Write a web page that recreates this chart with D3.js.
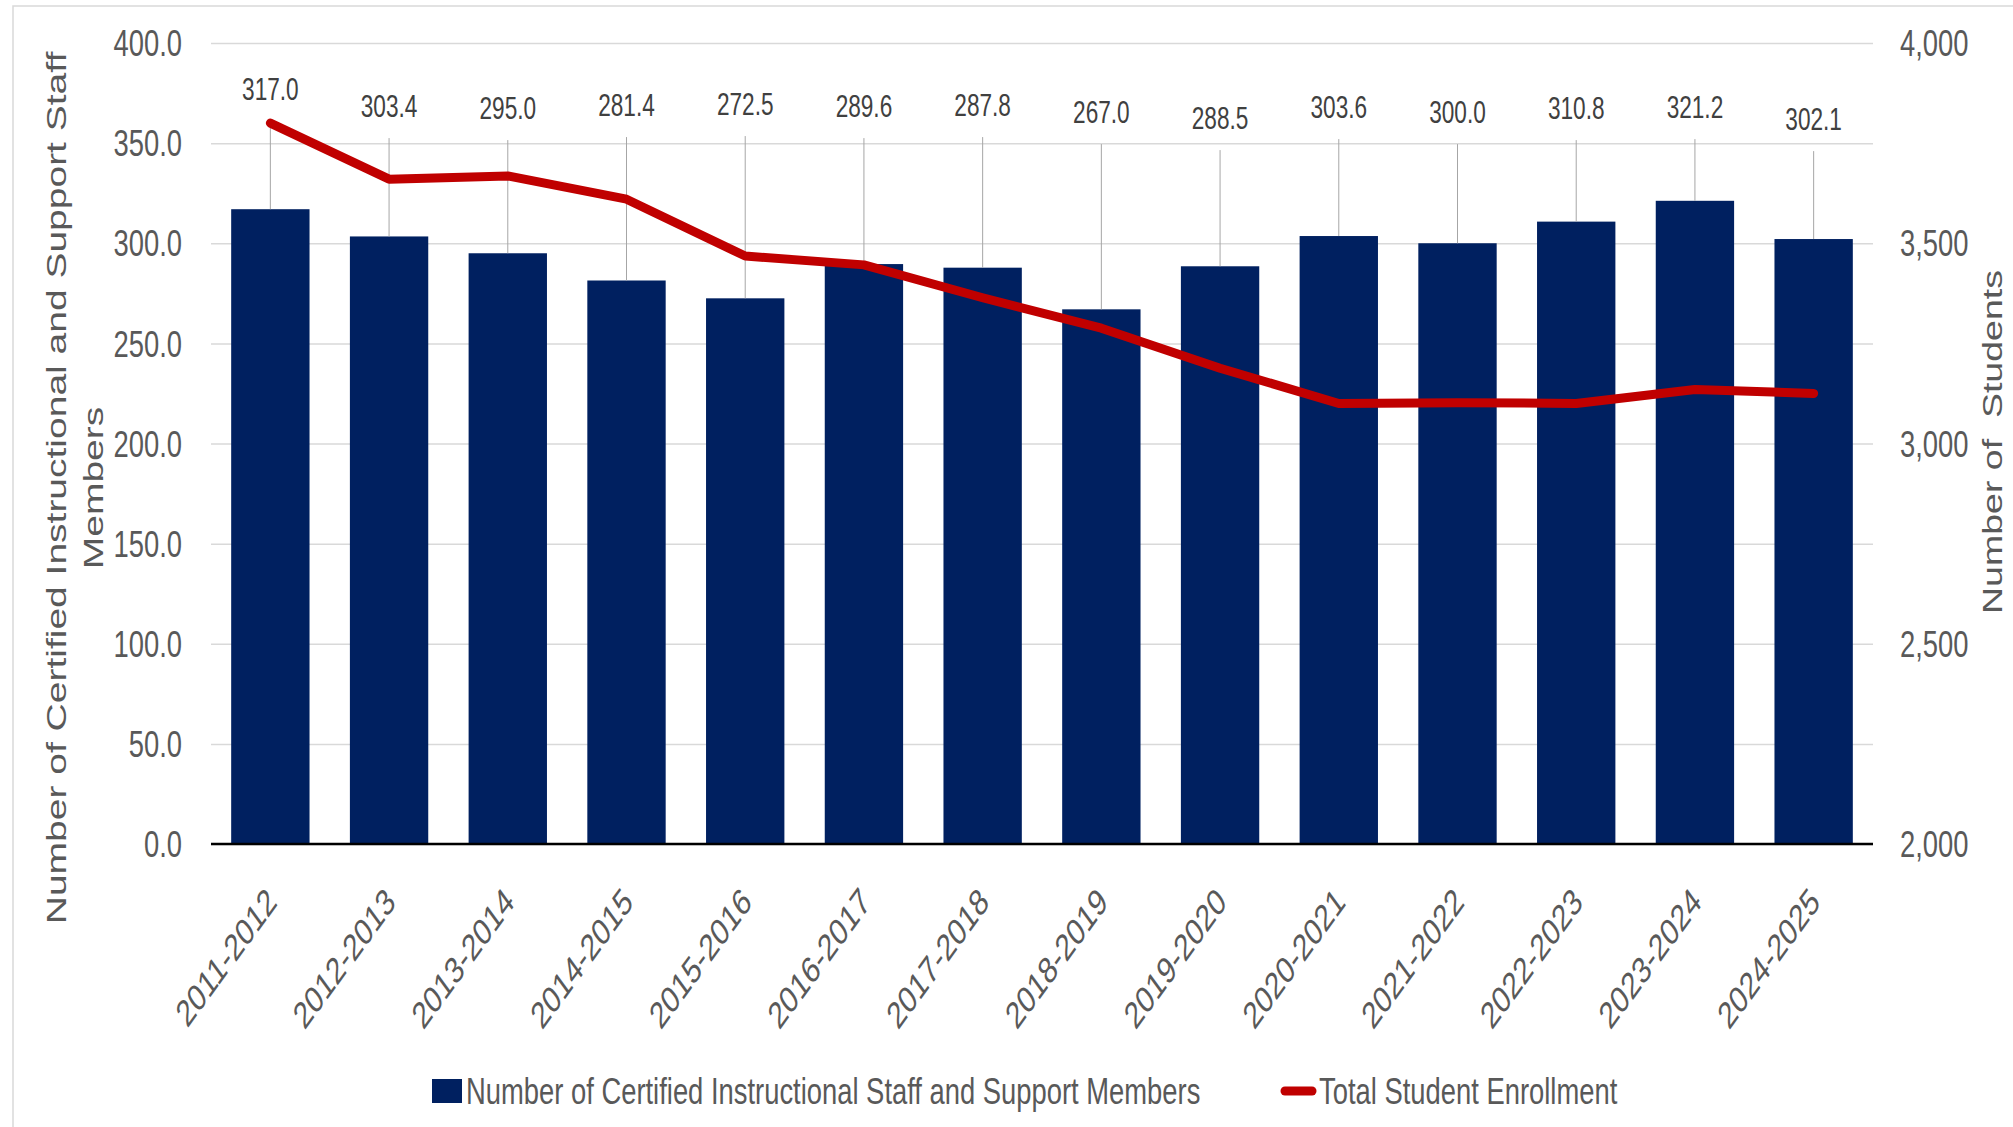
<!DOCTYPE html>
<html>
<head>
<meta charset="utf-8">
<script src="https://cdn.jsdelivr.net/npm/d3@7"></script>
<style>
  body { margin: 0; background: #fff; }
  svg { display: block; font-family: "Liberation Sans", Arial, sans-serif; }
  .pre { white-space: pre; }
</style>
</head>
<body>
<svg id="chart" width="2013" height="1127"></svg>
<script>
const years = ["2011-2012", "2012-2013", "2013-2014", "2014-2015", "2015-2016", "2016-2017", "2017-2018",
  "2018-2019", "2019-2020", "2020-2021", "2021-2022", "2022-2023", "2023-2024", "2024-2025"];
const staffCounts = [317.0, 303.4, 295.0, 281.4, 272.5, 289.6, 287.8, 267.0, 288.5, 303.6, 300.0, 310.8, 321.2, 302.1];
const enrollment = [3800, 3660, 3668, 3610, 3468, 3446, 3364, 3288, 3188, 3100, 3102, 3100, 3135, 3125];
// where the moved data labels sit, in left-axis units
const labelAt = [377, 368.5, 367.5, 369, 369.5, 368.5, 369, 365.5, 362.5, 368, 365.5, 367.5, 368, 362];
const leftTicks = [0, 50, 100, 150, 200, 250, 300, 350, 400];
const rightTicks = [2000, 2500, 3000, 3500, 4000];

const SX = 0.73; // the source picture is squeezed horizontally
const svg = d3.select("#chart");
const plot = { left: 211, right: 1873, top: 43, bottom: 844 };

const x = d3.scaleBand().domain(years).range([plot.left, plot.right]).paddingInner(0.34).paddingOuter(0.17);
const y = d3.scaleLinear().domain([0, 400]).range([plot.bottom, plot.top]);
const yR = d3.scaleLinear().domain([2000, 4000]).range([plot.bottom, plot.top]);
const cx = (d) => x(d) + x.bandwidth() / 2;

// outer frame
svg.append("rect")
  .attr("x", 13).attr("y", 6).attr("width", 2100).attr("height", 1200)
  .attr("fill", "none").attr("stroke", "#d9d9d9").attr("stroke-width", 1.5);

// gridlines
svg.append("g")
  .attr("transform", `translate(${plot.left},0)`)
  .call(d3.axisLeft(y).tickValues(leftTicks).tickSize(-(plot.right - plot.left)).tickFormat(""))
  .call((g) => g.select(".domain").remove())
  .call((g) => g.selectAll("line").attr("stroke", "#d9d9d9").attr("stroke-width", 1.5));

// bars
svg.selectAll(".bar")
  .data(years)
  .join("rect")
  .attr("class", "bar")
  .attr("x", (d) => x(d))
  .attr("y", (d, i) => y(staffCounts[i]))
  .attr("width", x.bandwidth())
  .attr("height", (d, i) => y(0) - y(staffCounts[i]))
  .attr("fill", "#002060");

// leader lines for data labels
svg.selectAll(".leader")
  .data(years)
  .join("line")
  .attr("class", "leader")
  .attr("x1", cx).attr("x2", cx)
  .attr("y1", (d, i) => y(labelAt[i]) + 32)
  .attr("y2", (d, i) => y(staffCounts[i]))
  .attr("stroke", "#a6a6a6").attr("stroke-width", 1);

// baseline
svg.append("line")
  .attr("x1", plot.left).attr("x2", plot.right)
  .attr("y1", y(0)).attr("y2", y(0))
  .attr("stroke", "#000").attr("stroke-width", 2.5);

// enrollment line
const line = d3.line().x((d, i) => cx(years[i])).y((d) => yR(d));
svg.append("path")
  .datum(enrollment)
  .attr("d", line)
  .attr("fill", "none")
  .attr("stroke", "#c00000")
  .attr("stroke-width", 9)
  .attr("stroke-linejoin", "round")
  .attr("stroke-linecap", "round");

// data labels
svg.selectAll(".value")
  .data(years)
  .join("text")
  .attr("class", "value")
  .attr("transform", (d, i) => `translate(${cx(d)},${y(labelAt[i])}) scale(${SX},1)`)
  .attr("dy", "0.35em")
  .attr("text-anchor", "middle")
  .attr("font-size", 31)
  .attr("fill", "#404040")
  .text((d, i) => d3.format(".1f")(staffCounts[i]));

// left axis labels
svg.selectAll(".ltick")
  .data(leftTicks)
  .join("text")
  .attr("class", "ltick")
  .attr("transform", (d) => `translate(182,${y(d)}) scale(${SX},1)`)
  .attr("dy", "0.35em")
  .attr("text-anchor", "end")
  .attr("font-size", 37.5)
  .attr("fill", "#595959")
  .text((d) => d3.format(".1f")(d));

// right axis labels
svg.selectAll(".rtick")
  .data(rightTicks)
  .join("text")
  .attr("class", "rtick")
  .attr("transform", (d) => `translate(1900,${yR(d)}) scale(${SX},1)`)
  .attr("dy", "0.35em")
  .attr("text-anchor", "start")
  .attr("font-size", 37.5)
  .attr("fill", "#595959")
  .text((d) => d3.format(",")(d));

// category labels
svg.selectAll(".cat")
  .data(years)
  .join("text")
  .attr("class", "cat")
  .attr("transform", (d) => `translate(${cx(d) + 8},904) scale(${SX},1) rotate(-45)`)
  .attr("text-anchor", "end")
  .attr("font-size", 37.5)
  .attr("fill", "#595959")
  .text((d) => d);

// axis titles
const leftTitle = ["Number of Certified Instructional and Support Staff", "Members"];
svg.selectAll(".ltitle")
  .data(leftTitle)
  .join("text")
  .attr("class", "ltitle")
  .attr("transform", (d, i) => `translate(${66 + i * 37},488) scale(${SX},1) rotate(-90)`)
  .attr("text-anchor", "middle")
  .attr("font-size", 39)
  .attr("fill", "#595959")
  .text((d) => d);

svg.append("text")
  .attr("class", "pre")
  .attr("transform", `translate(2002,442) scale(${SX},1) rotate(-90)`)
  .attr("text-anchor", "middle")
  .attr("font-size", 37.5)
  .attr("fill", "#595959")
  .text("Number of  Students");

// legend
const legend = svg.append("g");
legend.append("rect")
  .attr("x", 432).attr("y", 1079).attr("width", 30).attr("height", 24)
  .attr("fill", "#002060");
legend.append("text")
  .attr("transform", `translate(466,1104) scale(${SX},1)`)
  .attr("font-size", 37.5)
  .attr("fill", "#595959")
  .text("Number of Certified Instructional Staff and Support Members");
legend.append("line")
  .attr("x1", 1285).attr("x2", 1312).attr("y1", 1091).attr("y2", 1091)
  .attr("stroke", "#c00000").attr("stroke-width", 9).attr("stroke-linecap", "round");
legend.append("text")
  .attr("transform", `translate(1319,1104) scale(${SX},1)`)
  .attr("font-size", 37.5)
  .attr("fill", "#595959")
  .text("Total Student Enrollment");
</script>
</body>
</html>
